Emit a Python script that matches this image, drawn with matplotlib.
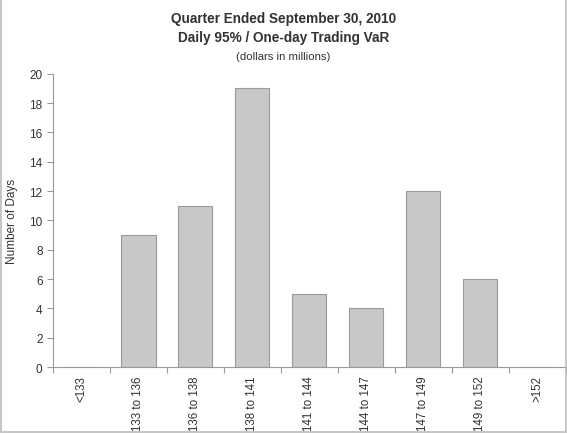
import numpy as np
import matplotlib
matplotlib.use('Agg')
import matplotlib.pyplot as plt
from matplotlib.patches import Rectangle

categorias = ['<133', '133 to 136', '136 to 138', '138 to 141', '141 to 144',
              '144 to 147', '147 to 149', '149 to 152', '>152']
dias = [0, 9, 11, 19, 5, 4, 12, 6, 0]
yticks = np.arange(0, 21, 2)

plt.rcParams['font.family'] = ['Liberation Sans', 'DejaVu Sans']
texto = '#333333'

fig = plt.figure(figsize=(5.67, 4.35), dpi=100)
ax = fig.add_axes([0.0935, 0.154, 0.904, 0.674])

x = np.arange(len(categorias))
ax.bar(x, dias, width=0.6, color='#c8c8ca', edgecolor='#9a9a9a', linewidth=0.8)

ax.set_xlim(-0.5, len(categorias) - 0.5)
ax.set_ylim(0, 20)
ax.set_yticks(yticks)
ax.tick_params(axis='y', labelsize=8.5, colors='#999999', labelcolor=texto, length=4, width=0.8)

# rótulos no centro, marcas entre as categorias
ax.set_xticks(x)
ax.set_xticklabels(categorias, rotation=90, fontsize=8.3, color=texto, va='top')
ax.tick_params(axis='x', length=0, pad=6)
ax.set_xticks(np.arange(-0.5, len(categorias), 1), minor=True)
ax.tick_params(axis='x', which='minor', length=4, width=0.8, colors='#999999')

for s in ['top', 'right']:
    ax.spines[s].set_visible(False)
for s in ['left', 'bottom']:
    ax.spines[s].set_color('#999999')
    ax.spines[s].set_linewidth(0.8)

ax.set_ylabel('Number of Days', fontsize=8.5, color=texto, labelpad=8)

fig.text(0.5, 0.956, 'Quarter Ended September 30, 2010', ha='center', va='center',
         fontsize=9.8, fontweight='bold', color=texto)
fig.text(0.5, 0.912, 'Daily 95% / One-day Trading VaR', ha='center', va='center',
         fontsize=9.8, fontweight='bold', color=texto)
fig.text(0.5, 0.869, '(dollars in millions)', ha='center', va='center',
         fontsize=8.2, color=texto)

fig.patches.append(Rectangle((0.001, 0.004), 0.998, 0.995, transform=fig.transFigure,
                             fill=False, edgecolor='#bbbbbb', linewidth=1.2))

fig.savefig('out.png', dpi=100)
